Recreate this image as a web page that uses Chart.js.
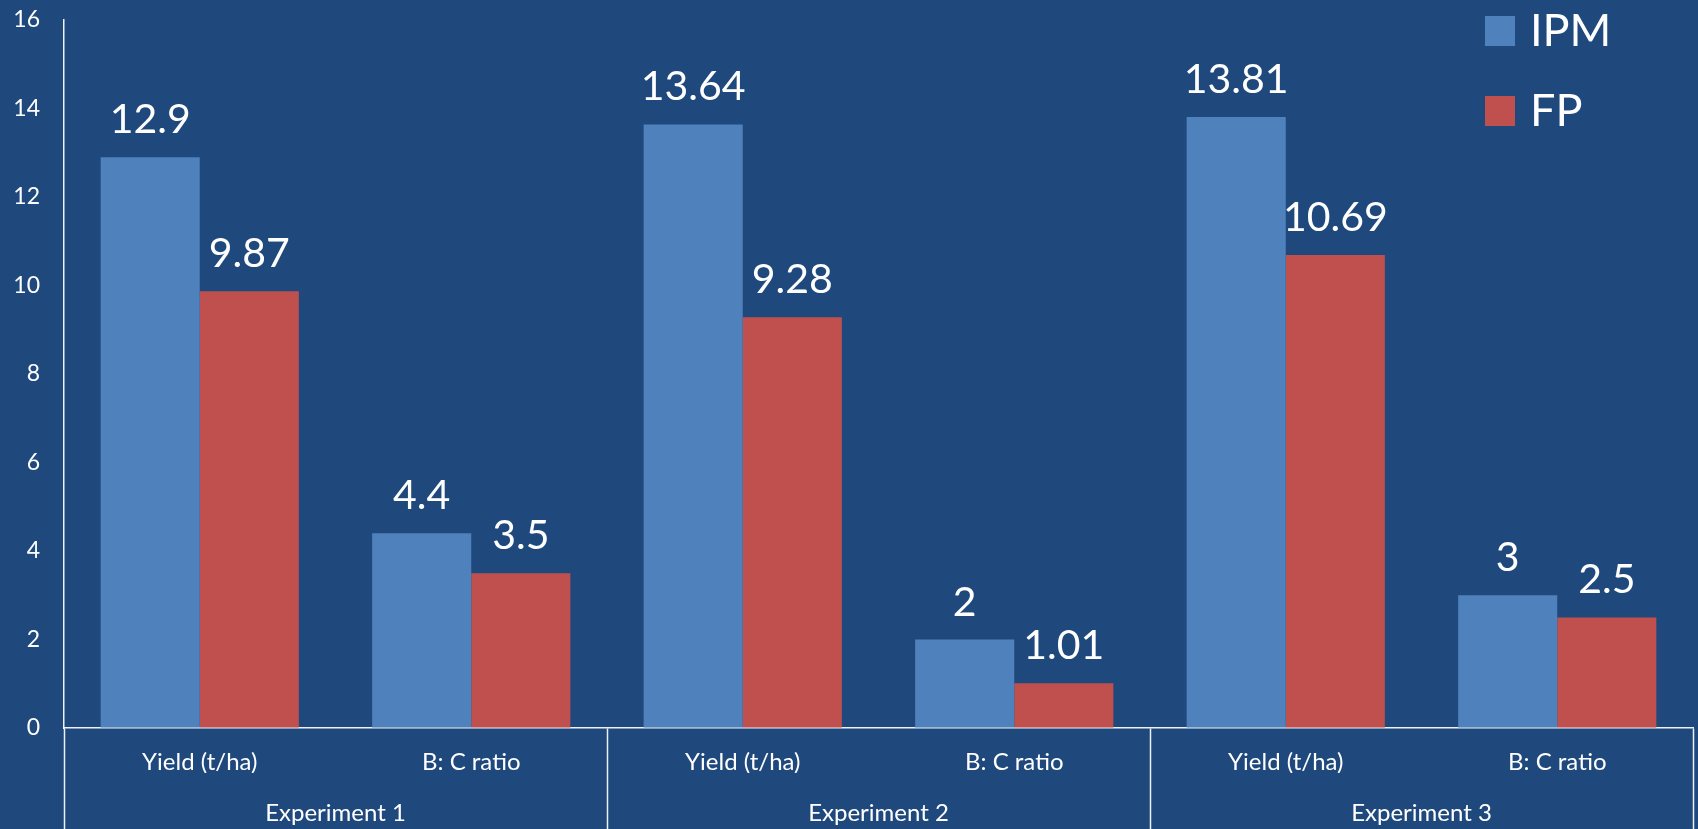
<!DOCTYPE html>
<html>
<head>
<meta charset="utf-8">
<script src="https://cdn.jsdelivr.net/npm/chart.js@4.4.1/dist/chart.umd.min.js"></script>
<style>
  html, body { margin: 0; padding: 0; background: #1F497D; }
  #wrap { position: relative; width: 1698px; height: 829px; }
</style>
</head>
<body>
<div id="wrap"><canvas id="myChart"></canvas></div>
<script>
const categories = ['Yield (t/ha)', 'B: C ratio', 'Yield (t/ha)', 'B: C ratio', 'Yield (t/ha)', 'B: C ratio'];
const experiments = ['Experiment 1', 'Experiment 2', 'Experiment 3'];
const ipmValues = [12.9, 4.4, 13.64, 2, 13.81, 3];
const fpValues = [9.87, 3.5, 9.28, 1.01, 10.69, 2.5];
const yMin = 0, yMax = 16, yStep = 2;

const lineColor = 'rgba(255,255,255,0.92)';
Chart.defaults.font.family = 'Lato, "Open Sans", sans-serif';
Chart.defaults.color = '#ffffff';

// value labels above every bar
const barValues = {
  id: 'barValues',
  afterDatasetsDraw(chart) {
    const ctx = chart.ctx;
    ctx.save();
    ctx.font = '41px Lato, sans-serif';
    ctx.fillStyle = '#ffffff';
    ctx.textAlign = 'center';
    ctx.textBaseline = 'alphabetic';
    chart.data.datasets.forEach((ds, di) => {
      chart.getDatasetMeta(di).data.forEach((bar, i) => {
        ctx.fillText(String(ds.data[i]), bar.x, bar.y - 24);
      });
    });
    ctx.restore();
  }
};

// stacked legend in the top right corner
const cornerLegend = {
  id: 'cornerLegend',
  afterDraw(chart) {
    const ctx = chart.ctx;
    const x = chart.width - 213;
    ctx.save();
    ctx.font = '45px Lato, sans-serif';
    ctx.textBaseline = 'alphabetic';
    ctx.textAlign = 'left';
    chart.data.datasets.forEach((ds, i) => {
      const top = 16 + i * 80;
      ctx.fillStyle = ds.backgroundColor;
      ctx.fillRect(x, top, 30, 30);
      ctx.fillStyle = '#ffffff';
      ctx.fillText(ds.label, x + 45, top + 30);
    });
    ctx.restore();
  }
};

new Chart('myChart', {
  type: 'bar',
  data: {
    labels: categories,
    datasets: [
      { label: 'IPM', data: ipmValues, backgroundColor: '#4F81BD' },
      { label: 'FP', data: fpValues, backgroundColor: '#C0504D' }
    ]
  },
  options: {
    responsive: true,
    maintainAspectRatio: false,
    animation: false,
    datasets: { bar: { categoryPercentage: 0.73, barPercentage: 1 } },
    layout: { padding: { top: 20, right: 5, left: 0, bottom: 0 } },
    plugins: { legend: { display: false }, tooltip: { enabled: false } },
    scales: {
      x: {
        position: 'bottom',
        offset: true,
        grid: {
          offset: true,
          drawOnChartArea: false,
          tickLength: 45,
          tickWidth: 1.5,
          tickColor: (c) => (c.index === undefined || c.index % 2 === 0) ? lineColor : 'transparent'
        },
        border: { display: true, color: lineColor, width: 1.5 },
        ticks: { font: { size: 24 }, color: '#ffffff', padding: -25, maxRotation: 0, autoSkip: false },
        afterFit: (s) => { s.height = 45; }
      },
      x2: {
        type: 'category',
        labels: experiments,
        position: 'bottom',
        offset: true,
        grid: {
          offset: true,
          drawOnChartArea: false,
          tickLength: 56,
          tickWidth: 1.5,
          tickColor: lineColor
        },
        border: { display: false },
        ticks: { font: { size: 24 }, color: '#ffffff', padding: -30, maxRotation: 0, autoSkip: false },
        afterFit: (s) => { s.height = 56; }
      },
      y: {
        min: yMin,
        max: yMax,
        // invisible tick marks keep the labels clear of the axis line
        grid: { drawOnChartArea: false, drawTicks: true, tickLength: 24, tickColor: 'transparent' },
        border: { display: true, color: lineColor, width: 1.5 },
        ticks: { stepSize: yStep, font: { size: 23 }, color: '#ffffff', padding: 0 },
        afterFit: (s) => { s.width = 64; }
      }
    }
  },
  plugins: [barValues, cornerLegend]
});
</script>
</body>
</html>
